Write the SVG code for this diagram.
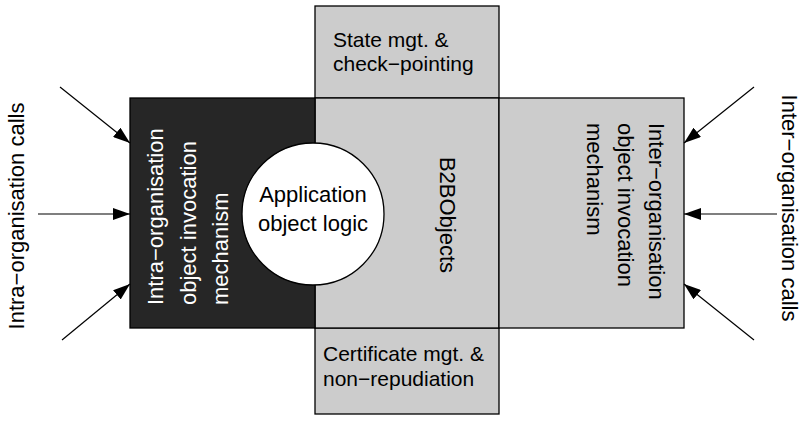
<svg xmlns="http://www.w3.org/2000/svg" width="804" height="421" viewBox="0 0 804 421">
<defs>
<style>
text{font-family:"Liberation Sans",Arial,sans-serif;font-size:22px;fill:#000}
.small{font-size:21px}
.box{stroke:#000;stroke-width:1.3}
.grey{fill:#cccccc}
.white{fill:#fff}
.arrow{stroke:#000;stroke-width:1.2;fill:none;marker-end:url(#ah)}
</style>
<marker id="ah" markerWidth="17" markerHeight="12" refX="17" refY="6" orient="auto" markerUnits="userSpaceOnUse">
<path d="M0,0 L17,6 L0,12 Z" fill="#000"/>
</marker>
</defs>
<rect width="804" height="421" fill="#fff"/>
<g id="state">
<rect class="box grey" x="315" y="6" width="184" height="92"/>
<text class="small" x="333" y="47">State mgt. &amp;</text>
<text class="small" x="333" y="71">check−pointing</text>
</g>
<g id="certificate">
<rect class="box grey" x="315" y="328" width="184" height="86"/>
<text class="small" x="323" y="361">Certificate mgt. &amp;</text>
<text class="small" x="323" y="386">non−repudiation</text>
</g>
<g id="b2bobjects">
<rect class="box grey" x="315" y="98" width="184" height="230"/>
<text transform="translate(440,215) rotate(90)" text-anchor="middle">B2BObjects</text>
</g>
<g id="inter">
<rect class="box grey" x="499" y="98" width="185" height="230"/>
<text transform="translate(649,123) rotate(90)">Inter−organisation</text>
<text transform="translate(618,123) rotate(90)">object invocation</text>
<text transform="translate(587,123) rotate(90)">mechanism</text>
</g>
<g id="intra">
<rect class="box" fill="#262626" x="130" y="98" width="185" height="230"/>
<text transform="translate(163,305) rotate(-90)" style="fill:#fff">Intra−organisation</text>
<text transform="translate(196,305) rotate(-90)" style="fill:#fff">object invocation</text>
<text transform="translate(228,305) rotate(-90)" style="fill:#fff">mechanism</text>
</g>
<g id="app">
<circle class="box white" cx="313" cy="214" r="71"/>
<text x="313" y="202" text-anchor="middle">Application</text>
<text x="313" y="231" text-anchor="middle">object logic</text>
</g>
<g id="intra-calls">
<text transform="translate(24,216) rotate(-90)" text-anchor="middle">Intra−organisation calls</text>
</g>
<g id="inter-calls">
<text transform="translate(782,208) rotate(90)" text-anchor="middle">Inter−organisation calls</text>
</g>
<g id="connectors">
<line class="arrow" x1="60" y1="87" x2="130" y2="143"/>
<line class="arrow" x1="38" y1="214" x2="130" y2="214"/>
<line class="arrow" x1="62" y1="340" x2="130" y2="284"/>
<line class="arrow" x1="754" y1="87" x2="684" y2="143"/>
<line class="arrow" x1="777" y1="214" x2="684" y2="214"/>
<line class="arrow" x1="754" y1="340" x2="684" y2="284"/>
</g>
</svg>
